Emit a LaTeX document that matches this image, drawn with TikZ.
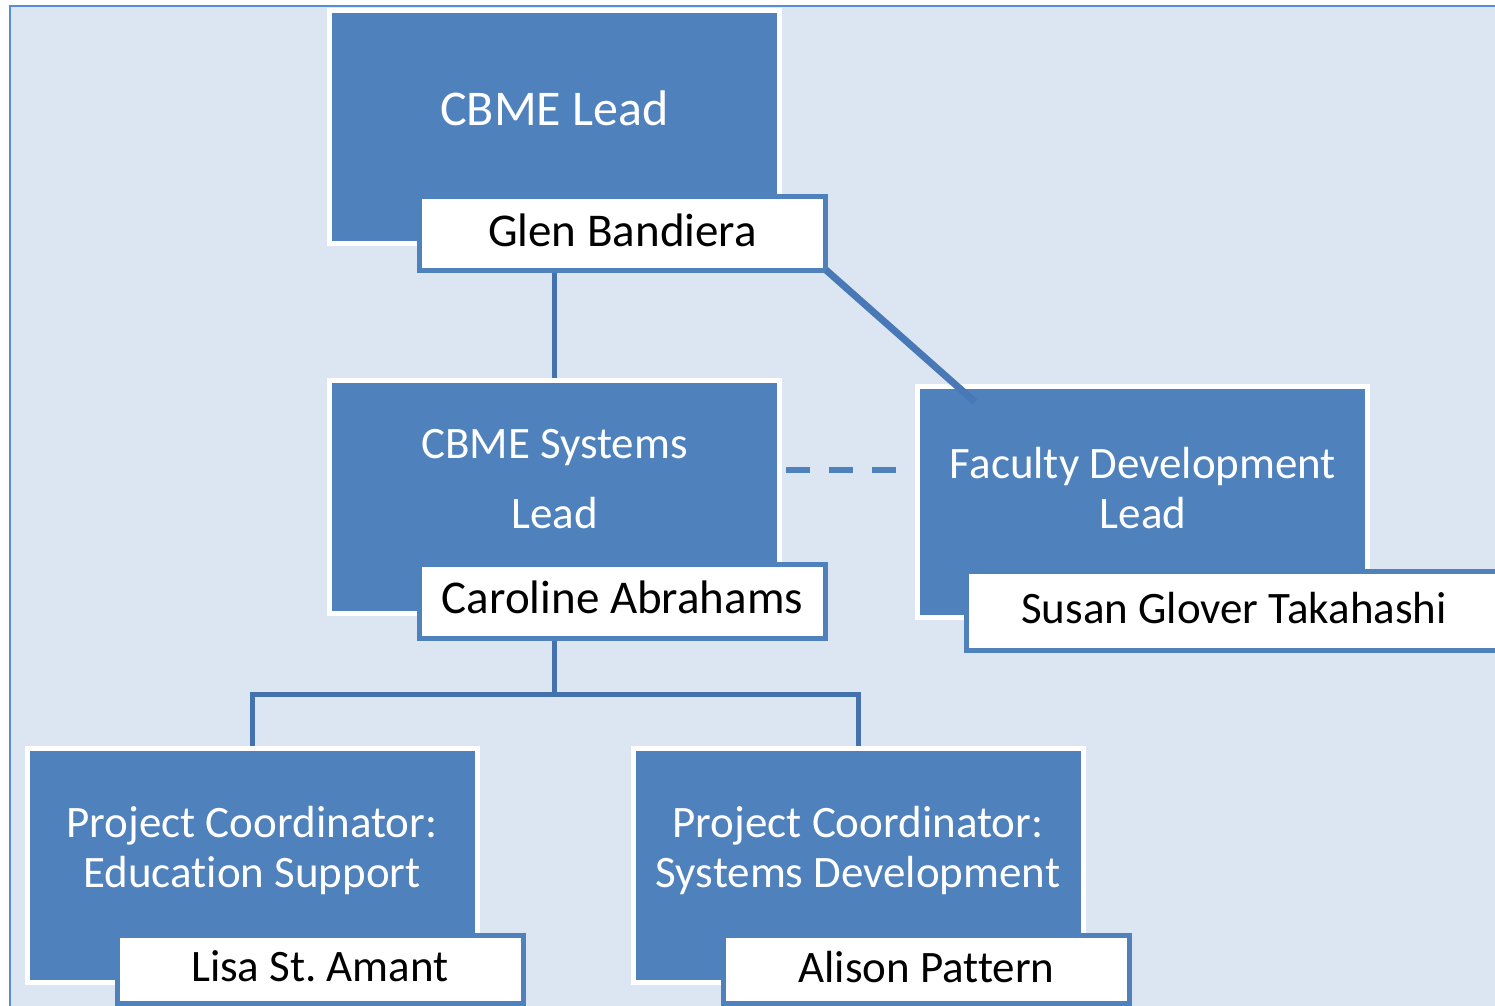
\documentclass[tikz,border=0pt]{standalone}
\usepackage{fontspec}
\setmainfont{Carlito}[Ligatures=NoCommon]
\usetikzlibrary{positioning,calc}

\definecolor{boxblue}{RGB}{79,129,189}
\definecolor{linkblue}{RGB}{68,114,174}
\definecolor{diagblue}{RGB}{72,121,182}
\definecolor{paleblue}{RGB}{220,230,242}
\definecolor{frameblue}{RGB}{85,142,213}

\begin{document}
\begin{tikzpicture}[x=1pt,y=-1pt,
    rolebox/.style={draw=white, fill=boxblue, line width=5pt, inner sep=0pt,
      minimum width=450pt, minimum height=233pt},
    roletext/.style={text=white, font=\fontsize{45}{50}\selectfont,
      align=center, anchor=base, inner sep=0pt},
    namebox/.style={draw=boxblue, fill=white, line width=5pt, inner sep=0pt,
      minimum width=406pt, minimum height=74pt, text height=32pt, text depth=7pt,
      font=\fontsize{45}{50}\selectfont},
    link/.style={draw=linkblue, line width=5pt}]
      \useasboundingbox (0,0) rectangle (1495,1005);
      \clip (0,0) rectangle (1495,1005);
      \fill [white] (0,0) rectangle (1495,1005);
      \draw [frameblue, fill=paleblue, line width=2pt] (10,6) rectangle (1530,1040);
      % role boxes
      \node [rolebox] (lead) at (554.5,127) {};
      \node [rolebox] (sys) at (554.5,496.5) {};
      \node [rolebox, minimum height=231pt] (fac) at (1142.5,502) {};
      \node [rolebox, minimum height=234pt] (pcedu) at (252,865.5) {};
      \node [rolebox, minimum height=234pt] (pcsys) at (858.5,865.5) {};
      % base = last line
      \node [roletext, font=\fontsize{50}{60}\selectfont] (leadtxt) at (554.5,125) {CBME Lead};
      \node [roletext, font=\fontsize{45}{70}\selectfont] (systxt) at (554.5,528) {CBME Systems\\Lead};
      \node [roletext] (factxt) at (1143,528) {Faculty Development\\Lead};
      \node [roletext] (pcedutxt) at (252,887) {Project Coordinator:\\Education Support};
      \node [roletext] (pcsystxt) at (858,887) {Project Coordinator:\\Systems Development};
      % connectors
      \draw [link] (lead.south) -- (sys.north);
      \draw [link] (sys.south) -- ++(0,79) coordinate (fork);
      \draw [link] (pcedu.north) |- (fork) -| (pcsys.north);
      % name boxes
      \node [namebox, font=\fontsize{47}{50}\selectfont] (glen) at (622.5,233.5) {Glen Bandiera};
      \node [namebox, font=\fontsize{47}{50}\selectfont] (caro) at (622.5,601) {Caroline Abrahams};
      \node [namebox, minimum width=535pt, minimum height=79pt] (susan) at (1234,611) {Susan Glover Takahashi};
      \node [namebox, minimum height=68pt] (lisa) at (320,969) {Lisa St.\ Amant};
      \node [namebox, minimum height=68pt] (alison) at (926.5,969.5) {Alison Pattern};
      \draw [boxblue, line width=6pt, dash pattern=on 24pt off 19pt]
        ([xshift=4pt,yshift=26.5pt]sys.east) -- ([xshift=-18pt,yshift=32pt]fac.west);
      \coordinate (facjoin) at (975,402);
      \draw [diagblue, line width=7pt] ([xshift=-2pt,yshift=3pt]glen.south east) -- (facjoin);
\end{tikzpicture}
\end{document}
